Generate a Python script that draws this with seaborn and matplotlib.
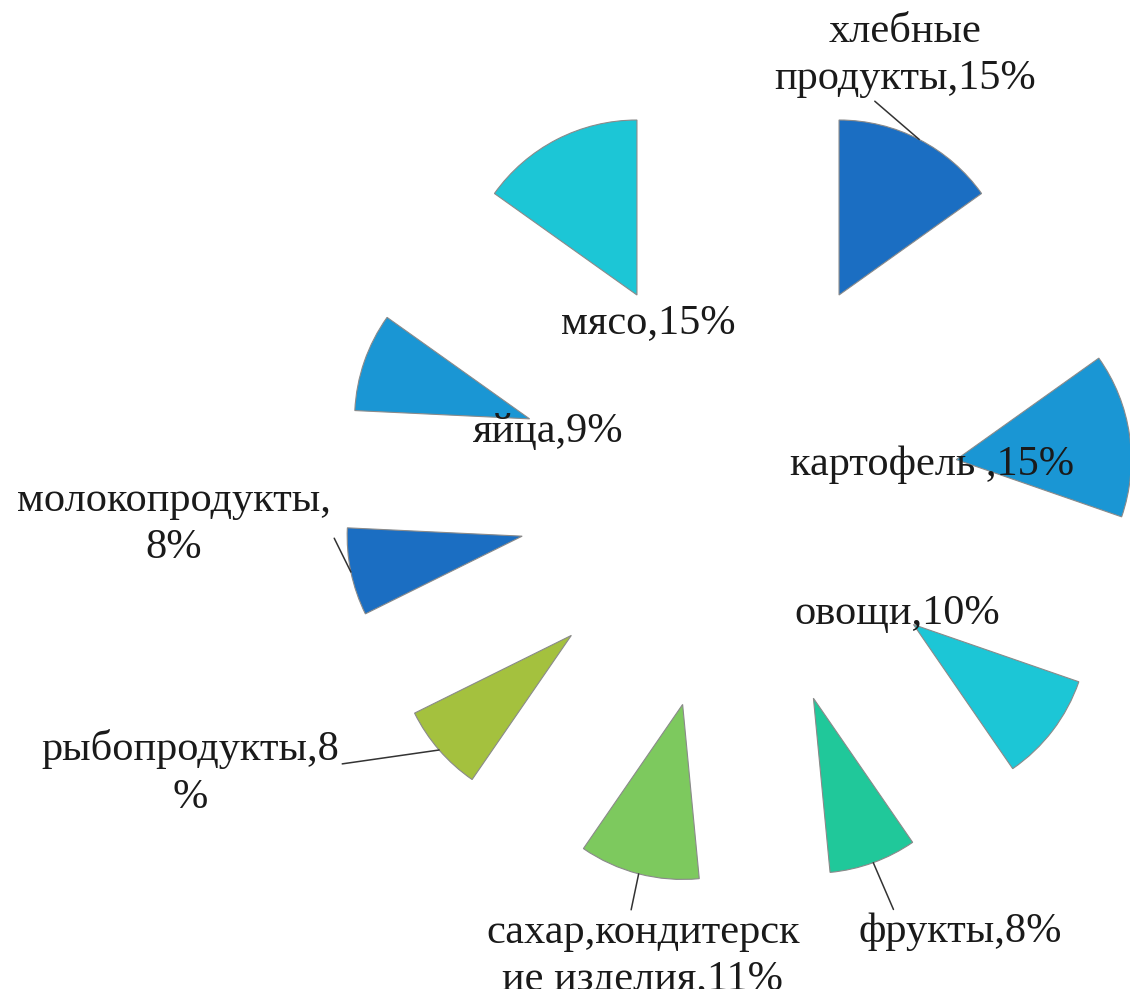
import numpy as np
import matplotlib
matplotlib.use("Agg")
import matplotlib.pyplot as plt
import seaborn as sns

# data (clockwise from 12 o'clock)
categories = ["хлебные продукты", "картофель ", "овощи", "фрукты",
              "сахар,кондитерские изделия", "рыбопродукты", "молокопродукты",
              "яйца", "мясо"]
shares = [15, 15, 10, 8, 11, 8, 8, 9, 15]
colors = ["#1B6EC2", "#1A96D4", "#1CC6D6", "#20C89A", "#7DC95E",
          "#A4C13E", "#1B6EC2", "#1A96D4", "#1CC6D6"]

# where each label wraps (character index), None = single line
wrap_at = [8, None, None, None, 16, 14, 15, None, None]

# label layout: centre in pixels from top-left, leader relpos (None = no line)
label_px = [(905, 55), (932, 465), (897, 614), (960, 932), (643, 956),
            (190, 773), (174, 524), (548, 432), (648, 323)]
leader_relpos = [(0.37, 0.0), None, None, (0.18, 1.0), (0.46, 1.0),
                 (0.92, 0.56), (0.98, 0.56), None, None]

W, H = 1130, 989
CX, CY, R = 738, 491, 175   # pie centre / radius in pixels

sns.set_theme(style="white")
plt.rcParams["font.family"] = ["Liberation Serif", "DejaVu Serif"]

fig = plt.figure(figsize=(W / 100, H / 100), dpi=100)
fig.patch.set_facecolor("white")
ax = fig.add_axes([0, 0, 1, 1])

wedges, _ = ax.pie(shares, colors=colors, startangle=90, counterclock=False,
                   radius=1, explode=[1.26] * len(shares),
                   wedgeprops=dict(edgecolor="#8a8a8a", linewidth=0.8))

ax.set_xlim(-CX / R, (W - CX) / R)
ax.set_ylim(-(H - CY) / R, CY / R)
ax.set_aspect("equal")
ax.axis("off")

for i, (cat, val) in enumerate(zip(categories, shares)):
    text = f"{cat},{val}%"
    k = wrap_at[i]
    if k is not None:
        text = text[:k].rstrip() + "\n" + text[k:].lstrip()
    px, py = label_px[i]
    w = wedges[i]
    mid = np.deg2rad((w.theta1 + w.theta2) / 2)
    anchor = (w.center[0] + w.r * np.cos(mid), w.center[1] + w.r * np.sin(mid))
    kw = {}
    if leader_relpos[i] is not None:
        kw["arrowprops"] = dict(arrowstyle="-", color="#333333", lw=1.1,
                                relpos=leader_relpos[i], shrinkA=0, shrinkB=0)
    ax.annotate(text, xy=anchor, xycoords="data",
                xytext=(px, H - py), textcoords="figure pixels",
                ha="center", va="center", multialignment="center",
                fontsize=30.5, color="#1a1a1a", linespacing=1.3,
                annotation_clip=False, **kw)

fig.savefig("out.png", dpi=100, facecolor="white")
